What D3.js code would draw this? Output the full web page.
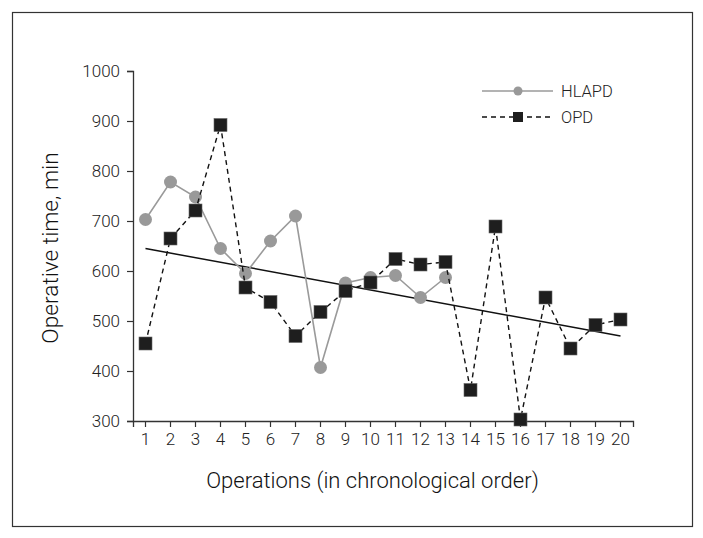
<!DOCTYPE html>
<html>
<head>
<meta charset="utf-8">
<script src="https://cdn.jsdelivr.net/npm/d3@7"></script>
<style>
  body { margin: 0; background: #fff; }
  svg { display: block; font-family: "Roboto", "Liberation Sans", sans-serif; font-weight: 300; }
</style>
</head>
<body>
<script>
const operations = d3.range(1, 21).map(String);
const hlapd = [703, 778, 748, 645, 595, 660, 710, 407, 576, 587, 591, 547, 587];
const opd = [455, 665, 721, 892, 567, 538, 470, 518, 560, 577, 624, 613, 618, 362, 689, 303, 547, 445, 492, 503];
const trend = [645, 470]; // fitted line at operation 1 and 20
const yTicks = [300, 400, 500, 600, 700, 800, 900, 1000];

const width = 703;
const height = 538;
const margin = { top: 71, right: 70, bottom: 117, left: 133 };

const svg = d3.select('body').append('svg')
  .attr('width', width)
  .attr('height', height);

// outer frame
svg.append('rect')
  .attr('x', 12.5).attr('y', 12.5)
  .attr('width', 680).attr('height', 514)
  .attr('fill', 'none')
  .attr('stroke', '#333')
  .attr('stroke-width', 1.2);

const x = d3.scaleBand()
  .domain(operations)
  .range([margin.left, width - margin.right]);

const y = d3.scaleLinear()
  .domain([300, 1000])
  .range([height - margin.bottom, margin.top]);

const cx = d => x(d) + x.bandwidth() / 2;

const xAxis = svg.append('g')
  .attr('transform', `translate(0,${height - margin.bottom})`)
  .call(d3.axisBottom(x).tickSizeOuter(0).tickSize(6).tickPadding(6));

const yAxis = svg.append('g')
  .attr('transform', `translate(${margin.left},0)`)
  .call(d3.axisLeft(y).tickValues(yTicks).tickFormat(d3.format('d')).tickSizeOuter(0).tickSize(6).tickPadding(7));

[xAxis, yAxis].forEach(g => {
  g.select('.domain').attr('stroke', '#333').attr('stroke-width', 1.3);
  g.selectAll('.tick line').attr('stroke', '#333').attr('stroke-width', 1.2);
  g.selectAll('.tick text')
    .attr('fill', '#222')
    .style('font-size', '17px')
    .style('font-family', 'Roboto, sans-serif')
    .style('font-weight', 300);
});

// trend line
svg.append('line')
  .attr('x1', cx(operations[0])).attr('y1', y(trend[0]))
  .attr('x2', cx(operations[operations.length - 1])).attr('y2', y(trend[1]))
  .attr('stroke', '#111')
  .attr('stroke-width', 1.5);

// HLAPD
const hlapdPts = hlapd.map((v, i) => ({ k: operations[i], v }));
svg.append('path')
  .datum(hlapdPts)
  .attr('fill', 'none')
  .attr('stroke', '#9a9a9a')
  .attr('stroke-width', 1.6)
  .attr('d', d3.line().x(d => cx(d.k)).y(d => y(d.v)));

svg.selectAll('.hl')
  .data(hlapdPts)
  .enter().append('circle')
    .attr('class', 'hl')
    .attr('cx', d => cx(d.k))
    .attr('cy', d => y(d.v))
    .attr('r', 6.5)
    .attr('fill', '#999');

// OPD
const opdPts = opd.map((v, i) => ({ k: operations[i], v }));
svg.append('path')
  .datum(opdPts)
  .attr('fill', 'none')
  .attr('stroke', '#111')
  .attr('stroke-width', 1.4)
  .attr('stroke-dasharray', '5,4')
  .attr('d', d3.line().x(d => cx(d.k)).y(d => y(d.v)));

const sq = 13;
svg.selectAll('.op')
  .data(opdPts)
  .enter().append('rect')
    .attr('class', 'op')
    .attr('x', d => cx(d.k) - sq / 2)
    .attr('y', d => y(d.v) - sq / 2)
    .attr('width', sq)
    .attr('height', sq)
    .attr('fill', '#1e1e1e')
    .attr('stroke', '#666')
    .attr('stroke-width', 0.6);

// legend
const legend = svg.append('g').attr('transform', 'translate(482,91)');
legend.append('line')
  .attr('x1', 0).attr('x2', 71).attr('y1', 0).attr('y2', 0)
  .attr('stroke', '#9a9a9a').attr('stroke-width', 1.6);
legend.append('circle')
  .attr('cx', 36).attr('cy', 0).attr('r', 4.5).attr('fill', '#999');
legend.append('text')
  .attr('x', 79).attr('y', 0).attr('dy', '0.35em')
  .attr('fill', '#222').style('font-size', '16.5px')
  .text('HLAPD');

legend.append('line')
  .attr('x1', 0).attr('x2', 71).attr('y1', 26).attr('y2', 26)
  .attr('stroke', '#111').attr('stroke-width', 1.4)
  .attr('stroke-dasharray', '5,4');
legend.append('rect')
  .attr('x', 31).attr('y', 21).attr('width', 10).attr('height', 10)
  .attr('fill', '#1e1e1e');
legend.append('text')
  .attr('x', 79).attr('y', 26).attr('dy', '0.35em')
  .attr('fill', '#222').style('font-size', '16.5px')
  .text('OPD');

// axis titles
svg.append('text')
  .attr('x', 372.5)
  .attr('y', 488)
  .attr('text-anchor', 'middle')
  .attr('fill', '#111')
  .style('font-size', '22px')
  .text('Operations (in chronological order)');

svg.append('text')
  .attr('transform', `translate(58,248) rotate(-90)`)
  .attr('text-anchor', 'middle')
  .attr('fill', '#111')
  .style('font-size', '22.7px')
  .text('Operative time, min');
</script>
</body>
</html>
